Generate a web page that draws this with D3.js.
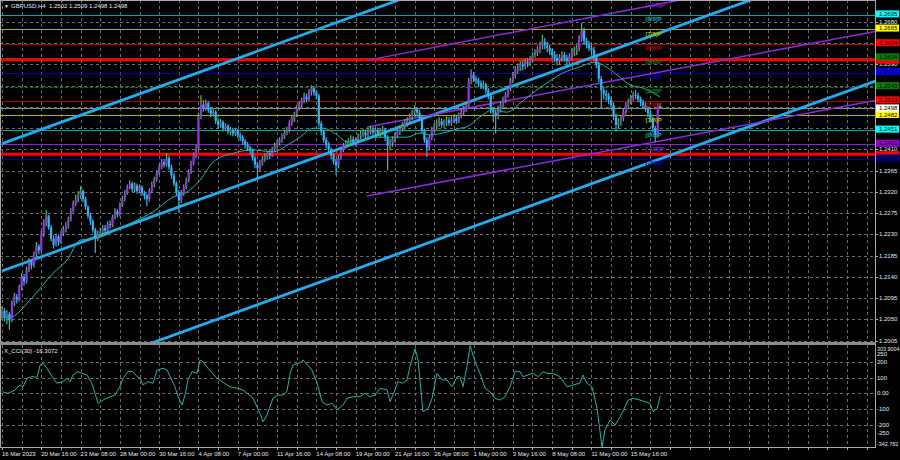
<!DOCTYPE html>
<html><head><meta charset="utf-8">
<script src="https://cdn.jsdelivr.net/npm/d3@7"></script>
<style>html,body{margin:0;padding:0;background:#000;}svg{display:block;}text{font-family:"Liberation Sans",Arial,sans-serif;}</style>
</head><body><svg id="c" width="900" height="460"></svg>
<script>
// ---------------- DATA ----------------
const symbolTitle = "GBPUSD,H4  1.2502 1.2509 1.2498 1.2498";
const cciTitle = "X_CCI(30) -16.3072";
const firstOpen = 1.2060;
const closes = [
1.2068,1.2055,1.2062,1.2048,1.2085,1.2098,1.2092,1.2118,1.2140,1.2131,
1.2155,1.2172,1.2165,1.2188,1.2205,1.2196,1.2230,1.2255,1.2268,1.2245,
1.2221,1.2208,1.2226,1.2214,1.2232,1.2240,1.2247,1.2262,1.2280,1.2296,
1.2303,1.2312,1.2322,1.2305,1.2288,1.2270,1.2258,1.2240,1.2224,1.2230,
1.2236,1.2244,1.2238,1.2252,1.2250,1.2266,1.2279,1.2272,1.2292,1.2305,
1.2318,1.2330,1.2338,1.2326,1.2334,1.2322,1.2330,1.2318,1.2312,1.2305,
1.2322,1.2336,1.2346,1.2360,1.2372,1.2383,1.2378,1.2392,1.2372,1.2355,
1.2338,1.2320,1.2303,1.2318,1.2330,1.2345,1.2362,1.2380,1.2398,1.2412,
1.2480,1.2505,1.2498,1.2508,1.2494,1.2486,1.2490,1.2470,1.2462,1.2468,
1.2455,1.2460,1.2448,1.2452,1.2444,1.2450,1.2440,1.2436,1.2428,1.2420,
1.2414,1.2408,1.2392,1.2378,1.2370,1.2382,1.2390,1.2395,1.2402,1.2398,
1.2410,1.2418,1.2424,1.2430,1.2438,1.2445,1.2452,1.2466,1.2475,1.2484,
1.2498,1.2506,1.2515,1.2522,1.2516,1.2532,1.2540,1.2530,1.2524,1.2465,
1.2448,1.2430,1.2420,1.2410,1.2398,1.2385,1.2376,1.2392,1.2410,1.2418,
1.2422,1.2426,1.2432,1.2425,1.2430,1.2438,1.2442,1.2446,1.2440,1.2450,
1.2452,1.2446,1.2450,1.2444,1.2448,1.2452,1.2436,1.2418,1.2425,1.2432,
1.2440,1.2448,1.2455,1.2460,1.2466,1.2472,1.2480,1.2488,1.2495,1.2488,
1.2476,1.2450,1.2430,1.2414,1.2435,1.2452,1.2460,1.2466,1.2470,1.2462,
1.2468,1.2472,1.2466,1.2474,1.2476,1.2470,1.2482,1.2489,1.2496,1.2505,
1.2555,1.2568,1.2560,1.2556,1.2550,1.2545,1.2548,1.2535,1.2524,1.2494,
1.2488,1.2482,1.2495,1.2505,1.2515,1.2525,1.2540,1.2556,1.2566,1.2578,
1.2584,1.2590,1.2586,1.2595,1.2592,1.2600,1.2610,1.2615,1.2622,1.2630,
1.2638,1.2630,1.2625,1.2618,1.2610,1.2604,1.2598,1.2605,1.2610,1.2604,
1.2598,1.2608,1.2617,1.2620,1.2625,1.2645,1.2662,1.2640,1.2632,1.2625,
1.2621,1.2605,1.2590,1.2560,1.2535,1.2528,1.2524,1.2515,1.2504,1.2480,
1.2462,1.2468,1.2476,1.2490,1.2504,1.2512,1.2519,1.2526,1.2524,1.2516,
1.2510,1.2504,1.2498,1.2486,1.2476,1.2455,1.2440,1.2502,1.2498];
const highs = [
1.2078,1.2074,1.2070,1.2066,1.2090,1.2106,1.2104,1.2124,1.2148,1.2146,
1.2162,1.2180,1.2178,1.2194,1.2214,1.2210,1.2238,1.2262,1.2282,1.2272,
1.2250,1.2228,1.2232,1.2230,1.2238,1.2248,1.2256,1.2268,1.2286,1.2302,
1.2314,1.2322,1.2332,1.2326,1.2310,1.2292,1.2276,1.2262,1.2244,1.2238,
1.2244,1.2250,1.2250,1.2258,1.2260,1.2272,1.2286,1.2284,1.2298,1.2312,
1.2324,1.2336,1.2345,1.2342,1.2340,1.2338,1.2336,1.2334,1.2322,1.2316,
1.2328,1.2342,1.2352,1.2366,1.2378,1.2390,1.2390,1.2402,1.2396,1.2378,
1.2360,1.2342,1.2324,1.2324,1.2336,1.2350,1.2368,1.2386,1.2404,1.2420,
1.2488,1.2525,1.2514,1.2516,1.2512,1.2500,1.2496,1.2494,1.2476,1.2474,
1.2472,1.2466,1.2464,1.2458,1.2456,1.2456,1.2454,1.2446,1.2440,1.2432,
1.2426,1.2418,1.2412,1.2396,1.2384,1.2388,1.2396,1.2402,1.2408,1.2410,
1.2416,1.2424,1.2430,1.2436,1.2444,1.2452,1.2458,1.2472,1.2482,1.2490,
1.2504,1.2512,1.2520,1.2530,1.2528,1.2538,1.2546,1.2544,1.2536,1.2528,
1.2470,1.2452,1.2436,1.2426,1.2414,1.2402,1.2390,1.2398,1.2416,1.2424,
1.2430,1.2434,1.2440,1.2438,1.2436,1.2444,1.2450,1.2454,1.2452,1.2456,
1.2460,1.2458,1.2456,1.2456,1.2454,1.2460,1.2456,1.2440,1.2432,1.2438,
1.2446,1.2454,1.2462,1.2468,1.2474,1.2478,1.2486,1.2494,1.2504,1.2500,
1.2494,1.2480,1.2454,1.2436,1.2440,1.2458,1.2466,1.2474,1.2478,1.2476,
1.2474,1.2480,1.2478,1.2480,1.2484,1.2482,1.2488,1.2496,1.2502,1.2512,
1.2562,1.2580,1.2574,1.2566,1.2562,1.2556,1.2556,1.2552,1.2540,1.2528,
1.2500,1.2494,1.2502,1.2512,1.2522,1.2532,1.2546,1.2562,1.2574,1.2586,
1.2592,1.2598,1.2598,1.2602,1.2604,1.2608,1.2616,1.2622,1.2630,1.2638,
1.2653,1.2646,1.2638,1.2632,1.2624,1.2618,1.2612,1.2612,1.2618,1.2616,
1.2610,1.2614,1.2624,1.2628,1.2632,1.2652,1.2678,1.2668,1.2646,1.2640,
1.2634,1.2628,1.2612,1.2596,1.2566,1.2544,1.2536,1.2530,1.2522,1.2510,
1.2486,1.2476,1.2482,1.2496,1.2510,1.2518,1.2526,1.2532,1.2536,1.2530,
1.2522,1.2516,1.2510,1.2502,1.2492,1.2480,1.2460,1.2508,1.2509];
const lows = [
1.2052,1.2046,1.2040,1.2028,1.2044,1.2078,1.2084,1.2088,1.2112,1.2122,
1.2126,1.2150,1.2156,1.2160,1.2182,1.2188,1.2192,1.2224,1.2248,1.2240,
1.2215,1.2200,1.2204,1.2206,1.2210,1.2226,1.2234,1.2242,1.2258,1.2276,
1.2290,1.2298,1.2306,1.2298,1.2282,1.2264,1.2250,1.2234,1.2191,1.2216,
1.2224,1.2230,1.2230,1.2234,1.2242,1.2246,1.2262,1.2266,1.2268,1.2288,
1.2300,1.2314,1.2326,1.2320,1.2320,1.2316,1.2318,1.2312,1.2304,1.2290,
1.2300,1.2318,1.2330,1.2342,1.2356,1.2368,1.2372,1.2374,1.2366,1.2348,
1.2332,1.2312,1.2277,1.2296,1.2312,1.2326,1.2340,1.2358,1.2376,1.2392,
1.2408,1.2474,1.2490,1.2492,1.2488,1.2478,1.2480,1.2464,1.2454,1.2456,
1.2448,1.2450,1.2442,1.2440,1.2438,1.2438,1.2434,1.2428,1.2420,1.2412,
1.2406,1.2400,1.2386,1.2370,1.2351,1.2364,1.2376,1.2384,1.2388,1.2390,
1.2394,1.2404,1.2412,1.2418,1.2424,1.2432,1.2440,1.2446,1.2460,1.2468,
1.2478,1.2492,1.2500,1.2508,1.2510,1.2512,1.2524,1.2524,1.2516,1.2458,
1.2440,1.2424,1.2412,1.2402,1.2390,1.2378,1.2356,1.2370,1.2388,1.2404,
1.2412,1.2416,1.2420,1.2418,1.2418,1.2424,1.2432,1.2436,1.2434,1.2436,
1.2442,1.2440,1.2440,1.2438,1.2436,1.2440,1.2428,1.2366,1.2408,1.2416,
1.2424,1.2434,1.2440,1.2448,1.2452,1.2458,1.2464,1.2472,1.2480,1.2480,
1.2470,1.2444,1.2424,1.2394,1.2408,1.2430,1.2446,1.2452,1.2458,1.2456,
1.2456,1.2460,1.2460,1.2460,1.2466,1.2464,1.2466,1.2476,1.2482,1.2490,
1.2500,1.2548,1.2552,1.2548,1.2542,1.2538,1.2538,1.2528,1.2516,1.2486,
1.2470,1.2444,1.2474,1.2488,1.2498,1.2508,1.2520,1.2534,1.2550,1.2560,
1.2570,1.2576,1.2578,1.2580,1.2584,1.2586,1.2594,1.2604,1.2608,1.2614,
1.2622,1.2622,1.2616,1.2610,1.2602,1.2596,1.2588,1.2590,1.2596,1.2596,
1.2588,1.2590,1.2600,1.2608,1.2610,1.2618,1.2638,1.2632,1.2624,1.2618,
1.2612,1.2598,1.2582,1.2552,1.2500,1.2516,1.2512,1.2506,1.2496,1.2472,
1.2448,1.2454,1.2460,1.2470,1.2484,1.2498,1.2506,1.2512,1.2516,1.2510,
1.2502,1.2496,1.2490,1.2478,1.2468,1.2446,1.2426,1.2436,1.2498];

// moving average (bar position, value)
const maIdx = [0,3.3,11.4,20.8,26.5,31.8,38.7,44,53.3,61.5,69.6,75.3,80.6,85.9,94.1,102.2,110.3,117.3,121.3,126.6,130.7,136.4,140.5,145.8,151.1,158,164.9,170.2,174.3,181.2,186.5,189.3,194.6,199.9,205.6,210.9,216.2,221.9,228.4,235.3,241.4,244.7,250.4,255.7,261,265.1,267.9];
const maVal = [1.2055,1.2055,1.2091,1.2148,1.2176,1.2218,1.2222,1.2233,1.2256,1.2278,1.2309,1.2320,1.2345,1.2383,1.2402,1.2409,1.2405,1.2423,1.2436,1.2455,1.2455,1.2441,1.2426,1.2430,1.2436,1.2436,1.2436,1.2445,1.2441,1.2447,1.2455,1.2458,1.2479,1.2494,1.2489,1.2508,1.2530,1.2551,1.2572,1.2585,1.2595,1.2589,1.2568,1.2547,1.2540,1.2530,1.2521];

// CCI (bar position, value)
const cciIdx = [0,2.4,5.3,7.3,8.6,10.2,12.2,14.3,15.5,16.7,18.3,20.8,22.4,24.8,26.5,27.7,28.9,30.9,32.6,34.6,36.6,38.7,39.1,41.1,44,46,48,49.3,51.3,53.3,55,56.2,57.4,59.4,61.5,63.1,65.6,67.2,68.4,70.4,71.7,73.3,74.5,75.7,77.4,79.4,80.6,81.8,83.9,87.5,91.6,92.8,95.7,98.1,102.2,105,106.3,107.9,110.3,112.4,114.4,116,117.3,118.5,121.3,122.6,126.2,128.3,130.3,132.3,134.4,136.4,138.8,140.5,142.9,145.8,147.8,149.8,151.9,153.9,156.8,158,160,161.2,163.3,164.9,166.1,168.2,169.4,171.4,173.5,175.1,177.1,179.2,181.2,183.2,185.3,186.5,187.7,189.3,190.6,192.6,194.6,196.7,198.7,200.7,202.8,204.8,206.8,208.9,210.9,212.1,214.2,216.2,218.2,220.3,221.9,224.3,227.2,230,232.5,235.3,236.5,238.2,240.2,242.3,244.3,245.5,247.6,249.6,251.7,255,256.9,259.8,261.8,263.8,265.1,266.8,268];
const cciVal = [10,0,20,53,42,97,106,102,180,191,159,96,64,74,96,74,117,138,127,117,64,-43,-64,-43,-22,-11,42,96,138,138,106,96,53,74,64,148,159,148,106,42,-22,-75,-11,85,138,127,212,201,159,96,53,42,32,21,-32,-127,-181,-138,-32,-11,-11,10,127,180,195,212,148,64,-53,-75,-64,-106,-75,-32,-22,-22,0,-22,-11,32,21,-53,21,74,64,85,170,285,212,-117,-96,-32,127,85,85,42,106,106,42,170,303.9,201,127,32,10,-32,-43,-22,42,138,138,106,117,127,106,138,127,127,106,42,53,64,117,64,42,-96,-342.78,-234,-170,-202,-149,-43,-32,-43,-53,-64,-117,-96,-16.3];

const priceTicks = [1.2005,1.2050,1.2095,1.2140,1.2185,1.2230,1.2275,1.2320,1.2365,1.2410,1.2455,1.2500,1.2545,1.2590,1.2635,1.2680];
const timeTickIdx = [0,16,32,48,64,80,96,112,128,144,160,176,192,208,224,240,256];
const timeLabels = ["16 Mar 2023","20 Mar 16:00","23 Mar 08:00","28 Mar 00:00","30 Mar 16:00","4 Apr 08:00","7 Apr 00:00","11 Apr 16:00","14 Apr 08:00","19 Apr 00:00","21 Apr 16:00","26 Apr 08:00","1 May 00:00","3 May 16:00","8 May 08:00","11 May 00:00","15 May 16:00"];

const murrayNames = ["[+1/8]P","[8/8]P","[7/8]P","[6/8]P","[5/8]P","[4/8]P","[3/8]P","[2/8]P","[1/8]P","[0/8]P","[-1/8]P","[-2/8]P"];
const murrayPrices = [1.2726,1.2695,1.2665,1.2634,1.2604,1.2573,1.2543,1.2513,1.2482,1.2451,1.2421,1.2390];
const murrayLabelBar = 262;
const redLevels = [1.2600,1.2400];
const bidPrice = 1.2498;
const cciLevels = [200,100,0,-100,-200];
const cciAxisLabels = ["303.9004","250","200","100","0.00","-100","-200","-250","-342.782"];
const cciAxisValues = [303.9004,250,200,100,0,-100,-200,-250,-342.782];

// trend channels: [startBar, startPrice, endBar, endPrice]
const cyanChannel = [[0,1.24224,360,1.31003],[0,1.21526,360,1.28305],[0,1.18853,360,1.25632]];
const purpleChannel = [[148.6,1.25987,360,1.28104],[148.6,1.24576,360,1.26642],[148.6,1.23114,360,1.25181]];

// ---------------- STYLE ----------------
const murrayColors = ["#8a20d0","#00a8a8","#b0b000","#b00000","#008000","#0000b0","#008000","#b00000","#b0b000","#00a8a8","#8a20d0","#000098"];
const murrayLabelBg = ["#9400d3","#00ffff","#ffff00","#ff0000","#008000","#0000ff","#008000","#ff0000","#ffff00","#00ffff","#9400d3","#000080"];
const BULL="#9a2ee6", BULLWICK="#3ad23a", BEAR="#2cb6f2";
const GRID="#6a6a6a";

// ---------------- DRAW ----------------
const svg = d3.select('#c');
const PR = 875;
const BAR = 2.456;
const x = d3.scaleLinear().domain([0,354]).range([2,2+354*BAR]);
const y = d3.scaleLinear().domain([1.2005,1.2695]).range([340.7,14.9]);
const yc = d3.scaleLinear().domain([-342.782,303.9004]).range([447.1,345.6]);

svg.append('rect').attr('width',900).attr('height',460).attr('fill','#000');
const defs = svg.append('defs');
defs.append('clipPath').attr('id','cm').append('rect').attr('x',0).attr('y',0).attr('width',PR).attr('height',342);
defs.append('clipPath').attr('id','cc').append('rect').attr('x',0).attr('y',345).attr('width',PR).attr('height',102);

const gm = svg.append('g').attr('clip-path','url(#cm)');
const gc = svg.append('g').attr('clip-path','url(#cc)');

const vBars = d3.range(0,360,8).filter(i=>x(i)<PR);
// grid main
gm.selectAll('.hg').data(priceTicks).join('line')
  .attr('x1',0).attr('x2',PR).attr('y1',d=>Math.round(y(d))+0.5).attr('y2',d=>Math.round(y(d))+0.5)
  .attr('stroke',GRID).attr('stroke-dasharray','3,3');
gm.selectAll('.vg').data(vBars).join('line')
  .attr('x1',d=>Math.round(x(d))+0.5).attr('x2',d=>Math.round(x(d))+0.5).attr('y1',0).attr('y2',342)
  .attr('stroke',GRID).attr('stroke-dasharray','3,3');

// murray lines
gm.selectAll('.ml').data(murrayPrices).join('line')
  .attr('x1',0).attr('x2',PR).attr('y1',d=>Math.round(y(d))+0.5).attr('y2',d=>Math.round(y(d))+0.5)
  .attr('stroke',(d,i)=>murrayColors[i]).attr('stroke-width',1)
  .attr('stroke-dasharray',(d,i)=>(i===4||i===6)?'3,2':null);
// red levels
gm.selectAll('.rl').data(redLevels).join('line')
  .attr('x1',0).attr('x2',PR).attr('y1',d=>y(d)).attr('y2',d=>y(d))
  .attr('stroke','#ff0000').attr('stroke-width',3);
// bid line
gm.append('line').attr('x1',0).attr('x2',PR).attr('y1',Math.round(y(bidPrice))+0.5).attr('y2',Math.round(y(bidPrice))+0.5)
  .attr('stroke','#8a8a8a');

// channels
gm.selectAll('.cy').data(cyanChannel).join('line')
  .attr('x1',d=>x(d[0])).attr('y1',d=>y(d[1])).attr('x2',d=>x(d[2])).attr('y2',d=>y(d[3]))
  .attr('stroke','#1eaef0').attr('stroke-width',2.8);
gm.selectAll('.pc').data(purpleChannel).join('line')
  .attr('x1',d=>x(d[0])).attr('y1',d=>y(d[1])).attr('x2',d=>x(d[2])).attr('y2',d=>y(d[3]))
  .attr('stroke','#8a2be2').attr('stroke-width',1.5);

// candles
const bars = closes.map((c,i)=>{const o=i?closes[i-1]:firstOpen;return {i,o,c,h:highs[i],l:lows[i],bull:c>=o};});
const cg = gm.append('g');
cg.selectAll('.wk').data(bars).join('line')
  .attr('x1',d=>x(d.i)).attr('x2',d=>x(d.i)).attr('y1',d=>y(d.h)).attr('y2',d=>y(d.l))
  .attr('stroke',d=>d.bull?BULLWICK:BEAR).attr('stroke-width',1.2);
cg.selectAll('.bd').data(bars).join('rect')
  .attr('x',d=>x(d.i)-1.1).attr('width',2.2)
  .attr('y',d=>y(Math.max(d.o,d.c)))
  .attr('height',d=>Math.max(1,Math.abs(y(d.o)-y(d.c))))
  .attr('fill',d=>d.bull?BULL:BEAR);

// moving average
gm.append('path').datum(maIdx.map((d,i)=>[d,maVal[i]]))
  .attr('d',d3.line().x(d=>x(d[0])).y(d=>y(d[1])).curve(d3.curveMonotoneX))
  .attr('fill','none').attr('stroke','#22b2aa').attr('stroke-width',1);

// murray text labels
gm.selectAll('.mt').data(murrayNames).join('text')
  .attr('x',x(murrayLabelBar)).attr('y',(d,i)=>y(murrayPrices[i])+6.5)
  .attr('font-size',6).attr('font-weight','bold').attr('fill',(d,i)=>murrayColors[i]).text(d=>d);

// ---------- CCI panel ----------
gc.selectAll('.ch').data(cciLevels).join('line')
  .attr('x1',0).attr('x2',PR).attr('y1',d=>Math.round(yc(d))+0.5).attr('y2',d=>Math.round(yc(d))+0.5)
  .attr('stroke',GRID).attr('stroke-dasharray','3,3');
gc.selectAll('.cv').data(vBars).join('line')
  .attr('x1',d=>Math.round(x(d))+0.5).attr('x2',d=>Math.round(x(d))+0.5).attr('y1',345).attr('y2',447)
  .attr('stroke',GRID).attr('stroke-dasharray','3,3');
gc.append('path').datum(cciIdx.map((d,i)=>[d,cciVal[i]]))
  .attr('d',d3.line().x(d=>x(d[0])).y(d=>yc(d[1])))
  .attr('fill','none').attr('stroke','#22b2aa').attr('stroke-width',1);

// ---------- frame ----------
const fr = svg.append('g').attr('stroke','#a8a8a8').attr('fill','none');
fr.append('line').attr('x1',0.5).attr('x2',0.5).attr('y1',0).attr('y2',447);
fr.append('line').attr('x1',PR+0.5).attr('x2',PR+0.5).attr('y1',0).attr('y2',447.5);
fr.append('line').attr('x1',0).attr('x2',PR).attr('y1',0.5).attr('y2',0.5);
svg.append('rect').attr('x',0).attr('y',342).attr('width',PR+1).attr('height',3).attr('fill','#8c8c8c');
fr.append('line').attr('x1',0).attr('x2',PR+1).attr('y1',447.5).attr('y2',447.5);

// ---------- right axis main ----------
const ax = svg.append('g').attr('font-size',6);
// plain grid labels (those not covered by a coloured price box)
const boxed = murrayPrices.slice(1).concat(redLevels,[bidPrice]);
const plainTicks = priceTicks.filter(t=>!boxed.some(b=>Math.abs(y(b)-y(t))<4.2));
ax.selectAll('.pt').data(plainTicks).join('text')
  .attr('x',879).attr('y',d=>y(d)+2).attr('fill','#e6e6e6').text(d=>d.toFixed(4));
ax.selectAll('.ptk').data(priceTicks).join('line')
  .attr('x1',PR).attr('x2',PR+3).attr('y1',d=>Math.round(y(d))+0.5).attr('y2',d=>Math.round(y(d))+0.5).attr('stroke','#a8a8a8');
// red level price boxes (their text is hidden behind neighbouring boxes in the original)
ax.selectAll('.rlb').data(redLevels).join('rect')
  .attr('x',876).attr('y',d=>y(d)-3).attr('width',23).attr('height',7).attr('fill','#ff0000');
// murray labels (skip +1/8 which is off chart)
const mlab = ax.selectAll('.mlb').data(murrayPrices.slice(1)).join('g').attr('transform',d=>`translate(876,${y(d)-4.5})`);
mlab.append('rect').attr('width',23).attr('height',7).attr('fill',(d,i)=>murrayLabelBg[i+1]);
mlab.append('text').attr('x',3).attr('y',5.6).attr('fill','#000').text(d=>d.toFixed(4));
// bid label
const bl = ax.append('g').attr('transform',`translate(876,${y(bidPrice)-3.5})`);
bl.append('rect').attr('width',23).attr('height',7).attr('fill','#ffffff');
bl.append('text').attr('x',3).attr('y',5.6).attr('fill','#000').text(bidPrice.toFixed(4));

// ---------- right axis CCI ----------
ax.selectAll('.cl').data(cciAxisValues).join('text')
  .attr('x',877).attr('font-size',(d,i)=>(i===0||i===cciAxisValues.length-1)?5.4:6)
  .attr('y',(d,i)=>{let v=yc(d);if(i===0)v+=3.5;if(i===cciAxisValues.length-1)v-=3.5;return v+2;})
  .attr('fill','#e6e6e6').text((d,i)=>cciAxisLabels[i]);

// ---------- time axis ----------
const ta = svg.append('g').attr('font-size',6);
ta.selectAll('.tk').data(vBars).join('line')
  .attr('x1',d=>Math.round(x(d))+0.5).attr('x2',d=>Math.round(x(d))+0.5).attr('y1',447).attr('y2',450).attr('stroke','#a8a8a8');
ta.selectAll('.tl').data(timeTickIdx).join('text')
  .attr('x',d=>x(d)).attr('y',455.5).attr('fill','#e6e6e6').text((d,i)=>timeLabels[i]);

// ---------- titles ----------
svg.append('text').attr('x',4).attr('y',8).attr('font-size',5).attr('fill','#e6e6e6').text('▼');
svg.append('text').attr('x',11).attr('y',8.2).attr('font-size',6).attr('fill','#e6e6e6').attr('xml:space','preserve').text(symbolTitle);
svg.append('text').attr('x',4).attr('y',352.5).attr('font-size',6).attr('fill','#e6e6e6').text(cciTitle);
</script></body></html>
